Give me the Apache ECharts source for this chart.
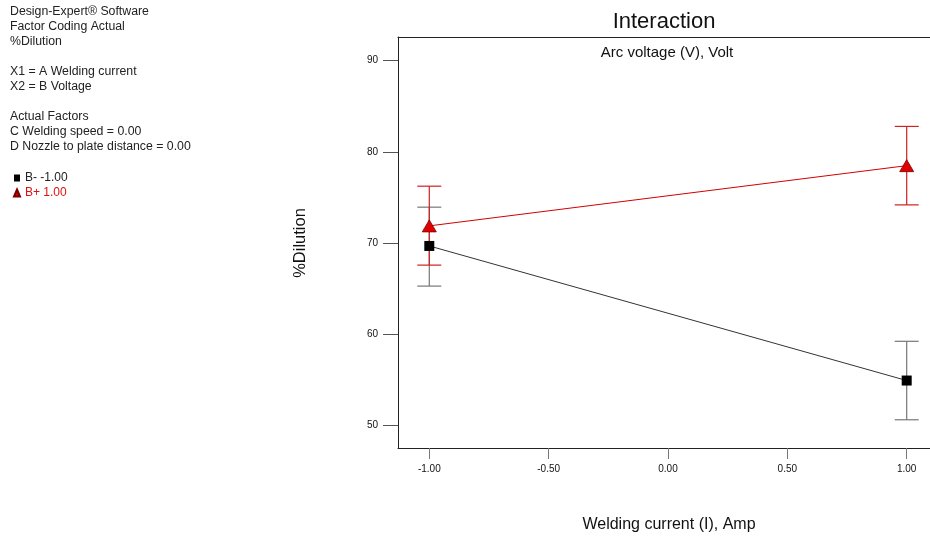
<!DOCTYPE html>
<html>
<head>
<meta charset="utf-8">
<script src="https://cdn.jsdelivr.net/npm/echarts@6/dist/echarts.min.js"></script>
<style>
  html, body { margin: 0; padding: 0; background: #fff; }
  #chart { width: 930px; height: 541px; }
</style>
</head>
<body>
<div id="chart"></div>
<script>
// factor A (welding current), coded
var xLevels = [-1, 1];
// %Dilution at B- and B+
var bMinus = [69.7, 54.95];
var bPlus = [71.9, 78.5];
// LSD bars
var bMinusLow = [65.3, 50.65];
var bMinusHigh = [73.95, 59.25];
var bPlusLow = [67.6, 74.2];
var bPlusHigh = [76.25, 82.8];

var xTicks = [-1, -0.5, 0, 0.5, 1];
var yTicks = [50, 60, 70, 80, 90];

var infoLines = [
  'Design-Expert® Software',
  'Factor Coding Actual',
  '%Dilution',
  '',
  'X1 = A Welding current',
  'X2 = B Voltage',
  '',
  'Actual Factors',
  'C Welding speed = 0.00',
  'D Nozzle to plate distance = 0.00'
];

function pairs(xs, ys) {
  return xs.map(function (x, i) { return [x, ys[i]]; });
}
function barRows(xs, lo, hi) {
  return xs.map(function (x, i) { return [x, lo[i], hi[i]]; });
}
function errorBar(color) {
  return function (params, api) {
    var top = api.coord([api.value(0), api.value(2)]);
    var bot = api.coord([api.value(0), api.value(1)]);
    var w = 12;
    var st = { stroke: color, lineWidth: 1.2 };
    return {
      type: 'group',
      children: [
        { type: 'line', shape: { x1: top[0], y1: top[1], x2: bot[0], y2: bot[1] }, style: st },
        { type: 'line', shape: { x1: top[0] - w, y1: top[1], x2: top[0] + w, y2: top[1] }, style: st },
        { type: 'line', shape: { x1: bot[0] - w, y1: bot[1], x2: bot[0] + w, y2: bot[1] }, style: st }
      ]
    };
  };
}

var chart = echarts.init(document.getElementById('chart'));
var font = '"Liberation Sans", Arial, sans-serif';
var xMin = -1.1311, xMax = 1.0976;

chart.setOption({
  animation: false,
  textStyle: { fontFamily: font },
  grid: { left: 398, right: 0, top: 37, bottom: 93 },
  legend: {
    orient: 'vertical',
    left: 13, top: 172, padding: 0,
    itemWidth: 6, itemHeight: 7, itemGap: 3,
    textStyle: { fontSize: 12, fontFamily: font },
    data: [
      { name: 'B- -1.00', icon: 'rect', itemStyle: { color: '#000' }, textStyle: { color: '#222' } },
      { name: 'B+ 1.00', icon: 'triangle', itemStyle: { color: '#d00000' }, textStyle: { color: '#e01010' } }
    ]
  },
  xAxis: [{
    type: 'value', position: 'bottom',
    min: xMin, max: xMax,
    axisLine: { show: true, onZero: false, lineStyle: { color: '#222' } },
    splitLine: { show: false },
    axisTick: { show: true, length: 11, customValues: xTicks, lineStyle: { color: '#777' } },
    axisLabel: {
      customValues: xTicks, margin: 16, fontSize: 10, color: '#111',
      formatter: function (v) { return v.toFixed(2); }
    }
  }, {
    type: 'value', position: 'top',
    min: xMin, max: xMax,
    axisLine: { show: true, onZero: false, lineStyle: { color: '#222' } },
    splitLine: { show: false }, axisTick: { show: false }, axisLabel: { show: false }
  }],
  yAxis: {
    type: 'value',
    min: 47.556, max: 92.6,
    axisLine: { show: true, onZero: false, lineStyle: { color: '#222' } },
    splitLine: { show: false },
    axisTick: { show: true, length: 15, customValues: yTicks, lineStyle: { color: '#555' } },
    axisLabel: { customValues: yTicks, margin: 20, fontSize: 10, color: '#111' }
  },
  graphic: [
    { type: 'text', left: 10, top: 4, style: { text: infoLines.join('\n'), font: '12.3px ' + font, fill: '#222', lineHeight: 15 } },
    { type: 'text', x: 664, y: 22, style: { text: 'Interaction', font: '22px ' + font, fill: '#111', align: 'center', verticalAlign: 'middle' } },
    { type: 'text', x: 667, y: 53, style: { text: 'Arc voltage (V), Volt', font: '15px ' + font, fill: '#111', align: 'center', verticalAlign: 'middle' } },
    { type: 'text', x: 669, y: 525, style: { text: 'Welding current (I), Amp', font: '16px ' + font, fill: '#111', align: 'center', verticalAlign: 'middle' } },
    { type: 'text', x: 300, y: 243, rotation: Math.PI / 2, style: { text: '%Dilution', font: '16.5px ' + font, fill: '#111', align: 'center', verticalAlign: 'middle' } }
  ],
  series: [
    {
      type: 'custom', name: 'B- bars', silent: true,
      renderItem: errorBar('#777'),
      data: barRows(xLevels, bMinusLow, bMinusHigh), z: 2
    },
    {
      type: 'custom', name: 'B+ bars', silent: true,
      renderItem: errorBar('#d02020'),
      data: barRows(xLevels, bPlusLow, bPlusHigh), z: 3
    },
    {
      type: 'line', name: 'B- -1.00',
      data: pairs(xLevels, bMinus),
      symbol: 'rect', symbolSize: 10,
      lineStyle: { color: '#333', width: 1 },
      itemStyle: { color: '#000' }, z: 4
    },
    {
      type: 'line', name: 'B+ 1.00',
      data: pairs(xLevels, bPlus),
      symbol: 'triangle', symbolSize: [14, 12],
      lineStyle: { color: '#d00000', width: 1 },
      itemStyle: { color: '#e00000', borderColor: '#700', borderWidth: 0.8 }, z: 5
    }
  ]
});
</script>
</body>
</html>
